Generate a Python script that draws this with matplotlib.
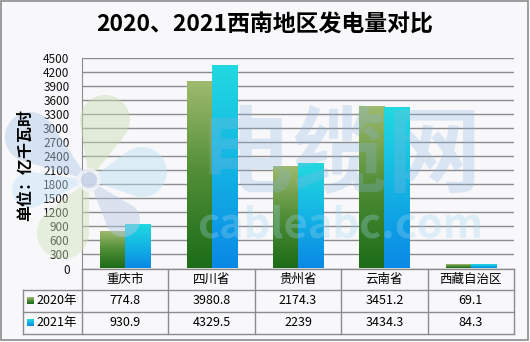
import numpy as np
import matplotlib.pyplot as plt
from matplotlib.colors import LinearSegmentedColormap
from matplotlib.patches import Rectangle, Circle, Polygon

plt.rcParams['font.family'] = ['Noto Sans CJK SC', 'DejaVu Sans']

TITLE = "2020、2021西南地区发电量对比"
YLABEL = "单位：亿千瓦时"
regions = ["重庆市", "四川省", "贵州省", "云南省", "西藏自治区"]
series_names = ["2020年", "2021年"]
gen_2020 = [774.8, 3980.8, 2174.3, 3451.2, 69.1]
gen_2021 = [930.9, 4329.5, 2239, 3434.3, 84.3]
yticks = list(range(0, 4501, 300))

W, H = 530, 342
BG = "#f8f8fb"
LINE = "#8c8c8c"
green_cm = LinearSegmentedColormap.from_list("g", ["#1c6c18", "#4f8d35", "#9fba6e"])
blue_cm = LinearSegmentedColormap.from_list("b", ["#0a88e6", "#13b4e4", "#22d9e0"])


def teardrop(c, r, tip, n=60):
    """Circle of radius r at c, drawn out to a point at tip."""
    cx, cy = c
    dx, dy = tip[0] - cx, tip[1] - cy
    d = np.hypot(dx, dy)
    base = np.arctan2(dy, dx)
    a = np.arccos(r / d)
    th = np.linspace(base + a, base + 2 * np.pi - a, n)
    pts = [tip] + list(zip(cx + r * np.cos(th), cy + r * np.sin(th)))
    return pts


fig = plt.figure(figsize=(W / 100, H / 100), dpi=100, facecolor=BG)

# plot area in pixel terms: x 82..514, y 58..268
ax = fig.add_axes([82 / W, (H - 268.5) / H, 432 / W, 210.5 / H])
ax.set_facecolor("none")

ncat = len(regions)
x = np.arange(ncat)
bw = 0.29
for vals, cm, off in [(gen_2020, green_cm, -bw / 2), (gen_2021, blue_cm, bw / 2)]:
    bars = ax.bar(x + off, vals, width=bw, color="none", edgecolor="none", zorder=3)
    grad = np.linspace(0, 1, 256).reshape(-1, 1)
    for b in bars:
        x0, w, h = b.get_x(), b.get_width(), b.get_height()
        ax.imshow(grad, extent=[x0, x0 + w, 0, h], aspect="auto", cmap=cm,
                  origin="lower", zorder=3)

ax.set_xlim(-0.5, ncat - 0.5)
ax.set_ylim(0, 4500)
ax.set_yticks(yticks)
ax.set_xticks([])
ax.yaxis.grid(True, color=LINE, linewidth=1.0)
ax.set_axisbelow(True)
ax.tick_params(axis="y", length=0, pad=9, labelsize=8.5, labelcolor="#111111")
for s in ["top", "right", "bottom"]:
    ax.spines[s].set_visible(False)
ax.spines["left"].set_color(LINE)

# overlay in pixel coordinates for title, table, frame and watermark
ov = fig.add_axes([0, 0, 1, 1], zorder=5)
ov.set_xlim(0, W)
ov.set_ylim(H, 0)
ov.axis("off")
ov.patch.set_alpha(0)

ov.add_patch(Rectangle((1, 1), W - 3, H - 3, fill=False, edgecolor=LINE, linewidth=1.2))

ov.text(265, 25, TITLE, ha="center", va="center", fontsize=16.5, fontweight="bold")
ov.text(25, 165, YLABEL, ha="center", va="center", rotation=90,
        fontsize=11.5, fontweight="bold")

# faint logo watermark
hub = (89, 180)
petals = [((105, 120), 25, "#c9dcae"), ((142, 172), 25, "#b9dff3"),
          ((123, 220), 17, "#b7c6e2"), ((63, 233), 26, "#cfe0b9"),
          ((30, 190), 18, "#bfe1f3"), ((30, 137), 25, "#adc6e6")]
for c, r, col in petals:
    ov.add_patch(Polygon(teardrop(c, r, hub), closed=True, facecolor=col,
                         edgecolor="none", alpha=0.45))
ov.add_patch(Circle(hub, 12, facecolor="#f2f4f9", edgecolor="none", alpha=0.8))
ov.add_patch(Circle(hub, 8, facecolor="#b4c2e0", edgecolor="none", alpha=0.6))
ov.text(340, 157, "电缆网", ha="center", va="center", fontsize=68,
        fontweight="bold", color="#8ab6de", alpha=0.28)
ov.text(340, 226, "cableabc.com", ha="center", va="center", fontsize=30,
        fontweight="bold", color="#9fd6ef", alpha=0.3)

# data table under the plot
col_edges = [82 + 86.4 * i for i in range(ncat + 1)]
row_y = [269, 289.5, 311.5, 333.5]
left = 22.5
ov.plot([col_edges[0], col_edges[-1]], [row_y[0]] * 2, color=LINE, lw=1)
for yy in row_y[1:]:
    ov.plot([left, col_edges[-1]], [yy] * 2, color=LINE, lw=1)
ov.plot([left, left], [row_y[1], row_y[3]], color=LINE, lw=1)
for xx in col_edges:
    ov.plot([xx, xx], [row_y[0], row_y[3]], color=LINE, lw=1)

for i, name in enumerate(regions):
    cx = (col_edges[i] + col_edges[i + 1]) / 2
    ov.text(cx, (row_y[0] + row_y[1]) / 2, name, ha="center", va="center", fontsize=9)
    ov.text(cx, (row_y[1] + row_y[2]) / 2, f"{gen_2020[i]:g}", ha="center",
            va="center", fontsize=9)
    ov.text(cx, (row_y[2] + row_y[3]) / 2, f"{gen_2021[i]:g}", ha="center",
            va="center", fontsize=9)

for k, (name, cm) in enumerate(zip(series_names, [green_cm, blue_cm])):
    cy = (row_y[1 + k] + row_y[2 + k]) / 2
    ov.imshow(np.linspace(1, 0, 16).reshape(-1, 1), extent=[27, 34, cy + 3.5, cy - 3.5],
              aspect="auto", cmap=cm, zorder=3)
    ov.text(36, cy, name, ha="left", va="center", fontsize=9)
ov.set_xlim(0, W)
ov.set_ylim(H, 0)

fig.savefig("out.png", dpi=100, facecolor=BG)
